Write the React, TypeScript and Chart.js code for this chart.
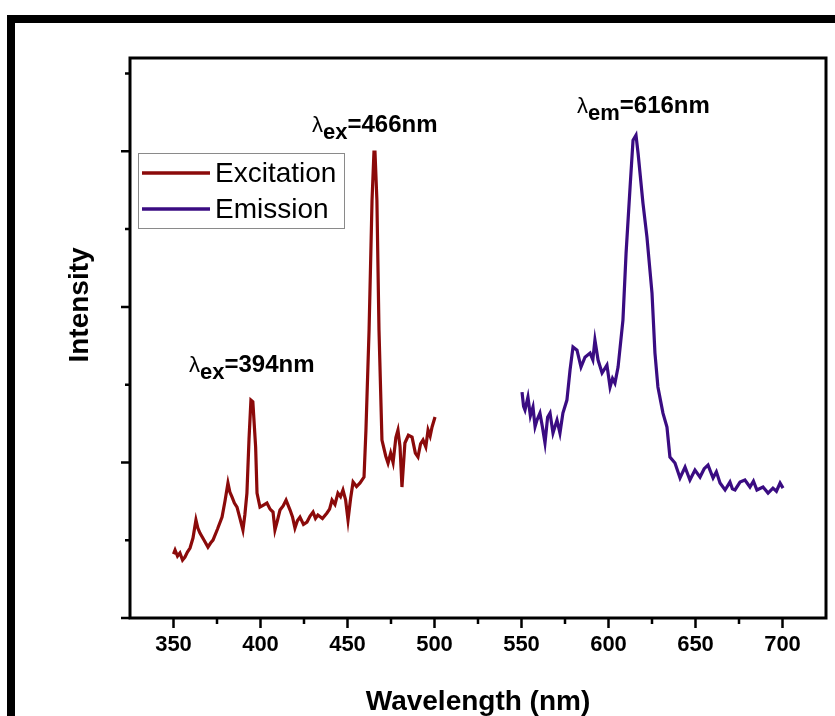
import React, { useEffect, useRef } from 'react';
import { Chart, registerables } from 'chart.js';

Chart.register(...registerables);

// ---- data ----
const excitationWavelength = [
  350.0, 350.9, 352.3, 353.7, 355.2, 356.6, 358.0, 359.5, 361.2, 362.9, 364.0, 365.2, 367.5, 369.8, 371.3, 372.7,
  375.3, 377.9, 379.6, 381.3, 382.4, 383.6, 385.0, 386.5, 388.2, 389.9, 391.0, 392.2, 393.4, 394.5,
  395.6, 397.2, 398.0, 399.7, 401.7, 403.7, 405.5, 407.2, 408.3, 409.8, 411.2, 413.0, 414.7, 417.0,
  418.4, 419.8, 421.2, 422.7, 424.7, 426.7, 428.5, 430.2, 431.6, 433.0, 435.6, 438.2, 439.7,
  441.1, 442.8, 444.5, 446.0, 447.4, 448.9, 450.3, 451.8, 453.2, 455.2, 457.2, 459.5, 460.6, 462.4, 464.1,
  465.2, 465.8, 466.9, 468.1, 469.8, 472.0, 473.3, 474.8, 476.2, 477.8, 479.0, 480.2, 481.3, 483.0, 485.0,
  487.1, 489.0, 490.5, 492.0, 493.4, 495.0, 496.3, 497.5, 498.6, 500.3,
];
const excitationIntensity = [
  411, 437, 398, 418, 373, 392, 424, 450, 514, 630, 578, 546, 501, 456, 482, 501,
  572, 649, 752, 868, 810, 778, 739, 713, 640, 566, 662, 803, 1150, 1401,
  1390, 1100, 803, 713, 726, 739, 700, 681, 566, 630, 694, 720, 758, 694,
  650, 578, 625, 649, 602, 617, 655, 681, 640, 662, 640, 675, 700,
  758, 730, 803, 780, 823, 760, 630, 770, 874, 845, 868, 906, 1208, 1851, 2686,
  2995, 2995, 2686, 1851, 1144, 1040, 996, 1060, 1000, 1160, 1208, 1100, 842, 1125, 1175,
  1163, 1060, 1035, 1120, 1144, 1100, 1208, 1170, 1228, 1292,
];
const emissionWavelength = [
  550.3, 551.2, 552.0, 553.7, 555.1, 556.6, 557.8, 558.9, 560.6, 562.0, 563.5, 565.0, 566.4, 568.1, 570.4,
  572.1, 573.8, 576.1, 577.9, 579.6, 581.9, 584.2, 586.5, 589.4, 591.0, 592.2,
  594.0, 596.3, 599.1, 600.9, 602.3, 603.7, 605.5, 608.3, 610.1, 612.4, 614.1,
  615.8, 617.0, 619.8, 622.1, 625.0, 626.7, 628.4, 631.3, 633.6, 635.3,
  638.2, 641.1, 644.0, 646.8, 649.7, 652.6, 655.0, 657.2, 660.1, 662.0, 664.1, 667.0,
  669.8, 671.2, 672.7, 675.6, 678.4, 681.3, 683.3, 685.3, 688.8, 691.7, 694.5, 696.5, 698.6,
  700.3,
];
const emissionIntensity = [
  1452, 1360, 1337, 1420, 1300, 1356, 1230, 1272, 1317, 1230, 1125, 1290, 1317, 1189, 1272,
  1189, 1317, 1401, 1594, 1742, 1722, 1613, 1677, 1703, 1660, 1787,
  1658, 1575, 1626, 1485, 1540, 1510, 1613, 1915, 2346, 2770, 3072,
  3104, 2988, 2667, 2449, 2089, 1703, 1485, 1317, 1228, 1035,
  996, 900, 970, 887, 951, 906, 960, 983, 900, 940, 868, 823,
  874, 830, 823, 874, 887, 842, 880, 823, 842, 803, 835, 815, 868,
  835,
];

const seriesNames = ['Excitation', 'Emission'];
const seriesColors = ['#8b0a0a', '#3a0c82'];

const xMajorTicks = [350, 400, 450, 500, 550, 600, 650, 700];
const xMinorTicks = [375, 425, 475, 525, 575, 625, 675];
const yMajorTicks = [0, 1000, 2000, 3000];
const yMinorTicks = [500, 1500, 2500, 3500];

const xTitle = 'Wavelength (nm)';
const yTitle = 'Intensity';

// peak annotations: subscript, value text, anchor (data units)
const peakLabelSub = ['ex', 'ex', 'em'];
const peakLabelText = ['=394nm', '=466nm', '=616nm'];
const peakLabelX = [358.9, 429.6, 581.9];
const peakLabelY = [1580, 3125, 3245];

const FONT = '"Liberation Sans", Arial, Helvetica, sans-serif';

export default function App() {
  const ref = useRef<HTMLCanvasElement | null>(null);

  useEffect(() => {
    document.body.style.margin = '0';
    const canvas = ref.current;
    if (!canvas) return;

    const overlay = {
      id: 'overlay',
      afterDraw(chart: any) {
        const ctx = chart.ctx as CanvasRenderingContext2D;
        const area = chart.chartArea;
        const xs = chart.scales.x;
        const ys = chart.scales.y;
        ctx.save();

        // outer frame
        ctx.strokeStyle = '#000';
        ctx.lineWidth = 8;
        ctx.strokeRect(11, 19, 1000, 1000);

        // plot box
        ctx.lineWidth = 3;
        ctx.strokeRect(area.left, area.top, area.right - area.left, area.bottom - area.top);

        // ticks
        ctx.lineWidth = 2.5;
        ctx.beginPath();
        xMajorTicks.forEach((v) => {
          const px = xs.getPixelForValue(v);
          ctx.moveTo(px, area.bottom);
          ctx.lineTo(px, area.bottom + 10);
        });
        xMinorTicks.forEach((v) => {
          const px = xs.getPixelForValue(v);
          ctx.moveTo(px, area.bottom);
          ctx.lineTo(px, area.bottom + 6);
        });
        yMajorTicks.forEach((v) => {
          const py = ys.getPixelForValue(v);
          ctx.moveTo(area.left, py);
          ctx.lineTo(area.left - 9, py);
        });
        yMinorTicks.forEach((v) => {
          const py = ys.getPixelForValue(v);
          ctx.moveTo(area.left, py);
          ctx.lineTo(area.left - 5, py);
        });
        ctx.stroke();

        // x tick labels
        ctx.fillStyle = '#000';
        ctx.font = `bold 22px ${FONT}`;
        ctx.textAlign = 'center';
        ctx.textBaseline = 'alphabetic';
        xMajorTicks.forEach((v) => {
          ctx.fillText(String(v), xs.getPixelForValue(v), 651);
        });

        // axis titles
        ctx.font = `bold 28px ${FONT}`;
        ctx.fillText(xTitle, (area.left + area.right) / 2, 710);
        ctx.save();
        ctx.translate(88, 305);
        ctx.rotate(-Math.PI / 2);
        ctx.fillText(yTitle, 0, 0);
        ctx.restore();

        // peak annotations
        peakLabelText.forEach((t, i) => {
          let x = xs.getPixelForValue(peakLabelX[i]);
          const y = ys.getPixelForValue(peakLabelY[i]);
          ctx.textAlign = 'left';
          ctx.font = `22px ${FONT}`;
          ctx.fillText('λ', x, y);
          x += ctx.measureText('λ').width;
          ctx.font = `bold 22px ${FONT}`;
          ctx.fillText(peakLabelSub[i], x, y + 7);
          x += ctx.measureText(peakLabelSub[i]).width;
          ctx.font = `bold 24px ${FONT}`;
          ctx.fillText(t, x, y);
        });

        // legend
        const lx = 138, ly = 153, lw = 206, lh = 75;
        ctx.lineWidth = 1;
        ctx.strokeStyle = '#8a8a8a';
        ctx.strokeRect(lx + 0.5, ly + 0.5, lw, lh);
        const rows = [173, 209];
        seriesNames.forEach((name, i) => {
          ctx.strokeStyle = seriesColors[i];
          ctx.lineWidth = 3.5;
          ctx.beginPath();
          ctx.moveTo(142, rows[i]);
          ctx.lineTo(210, rows[i]);
          ctx.stroke();
          ctx.fillStyle = '#000';
          ctx.font = `28px ${FONT}`;
          ctx.textAlign = 'left';
          ctx.textBaseline = 'middle';
          ctx.fillText(name, 215, rows[i] + 1);
        });

        ctx.restore();
      },
    };

    const chart = new Chart(canvas, {
      type: 'line',
      data: {
        datasets: [
          {
            label: seriesNames[0],
            data: excitationWavelength.map((x, i) => ({ x, y: excitationIntensity[i] })),
            borderColor: seriesColors[0],
            borderWidth: 3.2,
            pointRadius: 0,
            tension: 0,
            fill: false,
          },
          {
            label: seriesNames[1],
            data: emissionWavelength.map((x, i) => ({ x, y: emissionIntensity[i] })),
            borderColor: seriesColors[1],
            borderWidth: 3.2,
            pointRadius: 0,
            tension: 0,
            fill: false,
          },
        ],
      },
      options: {
        animation: false,
        responsive: false,
        devicePixelRatio: 1,
        layout: { padding: { left: 130, top: 58, right: 9, bottom: 98 } },
        plugins: { legend: { display: false }, tooltip: { enabled: false } },
        scales: {
          x: { type: 'linear', min: 325, max: 725, display: false },
          y: { type: 'linear', min: 0, max: 3600, display: false },
        },
      },
      plugins: [overlay],
    });

    return () => chart.destroy();
  }, []);

  return (
    <div style={{ width: 835, height: 716, background: '#fff' }}>
      <canvas ref={ref} width={835} height={716} style={{ display: 'block' }} />
    </div>
  );
}
